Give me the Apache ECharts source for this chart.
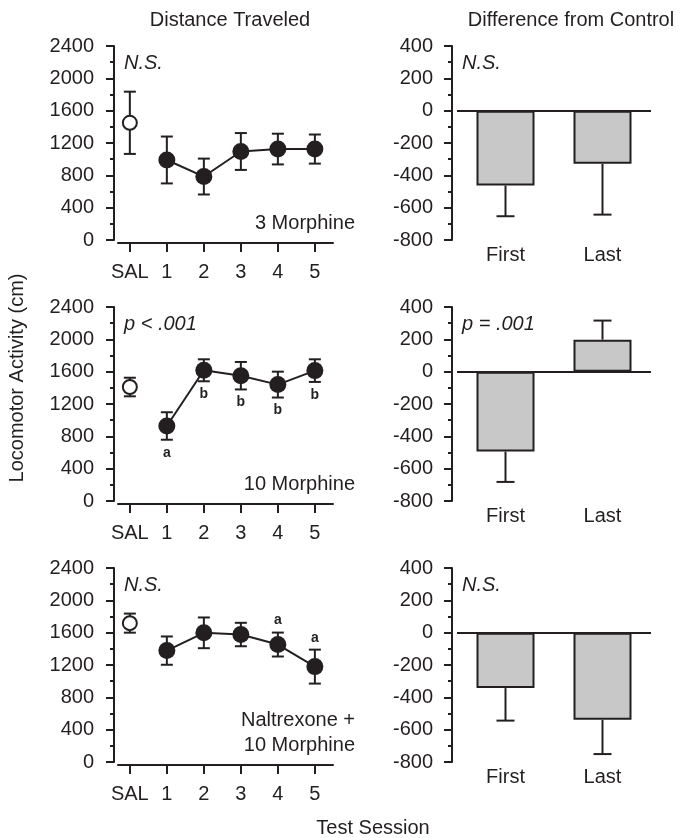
<!DOCTYPE html>
<html>
<head>
<meta charset="utf-8">
<script src="https://cdn.jsdelivr.net/npm/echarts@6/dist/echarts.min.js"></script>
<style>
html,body{margin:0;padding:0;background:#fff;}
#chart{width:680px;height:838px;}
</style>
</head>
<body>
<div id="chart"></div>
<script>
// ---- data ----
const sessions = ['SAL', '1', '2', '3', '4', '5'];
const leftTicks = [0, 400, 800, 1200, 1600, 2000, 2400];
const rightTicks = [-800, -600, -400, -200, 0, 200, 400];
const diffCats = ['First', 'Last'];

const m3Mean = [1450, 990, 785, 1095, 1125, 1125];
const m3Err = [385, 290, 222, 228, 190, 180];
const m3Letters = ['', '', '', '', '', ''];

const m10Mean = [1410, 928, 1617, 1550, 1440, 1613];
const m10Err = [115, 170, 136, 170, 160, 140];
const m10Letters = ['', 'a', 'b', 'b', 'b', 'b'];

const nalMean = [1718, 1378, 1598, 1577, 1453, 1180];
const nalErr = [118, 175, 190, 145, 148, 210];
const nalLetters = ['', '', '', '', 'a', 'a'];

const m3Diff = [-463, -329];
const m3DiffErr = [190, 314];
const m10Diff = [-494, 198];
const m10DiffErr = [188, 118];
const nalDiff = [-343, -539];
const nalDiffErr = [201, 212];

const statLeft = ['N.S.', 'p < .001', 'N.S.'];
const statRight = ['N.S.', 'p = .001', 'N.S.'];
const conditionLines = [['3 Morphine'], ['10 Morphine'], ['Naltrexone +', '10 Morphine']];

// ---- styling ----
const INK = '#231f20';
const FONT = '"Liberation Sans", Arial, Helvetica, sans-serif';
const FS = 20;
const tops = [46, 307, 568];
const H = 194;

const panels = [
  {mean: m3Mean, err: m3Err, letters: m3Letters, letterPos: 'below', diff: m3Diff, diffErr: m3DiffErr},
  {mean: m10Mean, err: m10Err, letters: m10Letters, letterPos: 'below', diff: m10Diff, diffErr: m10DiffErr},
  {mean: nalMean, err: nalErr, letters: nalLetters, letterPos: 'above', diff: nalDiff, diffErr: nalDiffErr}
];

const grids = [], xAxes = [], yAxes = [], series = [], graphics = [];

panels.forEach((p, k) => {
  const gl = 2 * k, gr = 2 * k + 1;
  grids.push({left: 118, width: 215, top: tops[k], height: H});
  grids.push({left: 457, width: 194, top: tops[k], height: H});

  // left panel axes
  xAxes.push({
    gridIndex: gl, type: 'value', min: -0.32, max: 5.49, offset: 3,
    axisLine: {show: true, onZero: false, lineStyle: {color: INK, width: 2}},
    axisTick: {show: true, length: 9, customValues: sessions.map((s, i) => i), lineStyle: {color: INK, width: 2}},
    axisLabel: {show: true, customValues: sessions.map((s, i) => i), formatter: v => sessions[Math.round(v)],
      fontSize: FS, fontFamily: FONT, color: INK, margin: 19},
    splitLine: {show: false}
  });
  yAxes.push({
    gridIndex: gl, type: 'value', min: leftTicks[0], max: leftTicks[leftTicks.length - 1],
    interval: leftTicks[1] - leftTicks[0], offset: 4,
    axisLine: {show: true, onZero: false, lineStyle: {color: INK, width: 2}},
    axisTick: {show: true, length: 8, lineStyle: {color: INK, width: 2}},
    minorTick: {show: true, splitNumber: 2, length: 4, lineStyle: {color: INK, width: 2}},
    axisLabel: {fontSize: FS, fontFamily: FONT, color: INK, margin: 20, formatter: v => String(v)},
    splitLine: {show: false}
  });
  // right panel axes
  xAxes.push({
    gridIndex: gr, type: 'category', data: diffCats, position: 'bottom',
    axisLine: {show: false, onZero: false},
    axisTick: {show: false},
    axisLabel: {fontSize: FS, fontFamily: FONT, color: INK, margin: 5},
    splitLine: {show: false}
  });
  yAxes.push({
    gridIndex: gr, type: 'value', min: rightTicks[0], max: rightTicks[rightTicks.length - 1],
    interval: rightTicks[1] - rightTicks[0], offset: 5,
    axisLine: {show: true, onZero: false, lineStyle: {color: INK, width: 2}},
    axisTick: {show: true, length: 8, lineStyle: {color: INK, width: 2}},
    minorTick: {show: true, splitNumber: 2, length: 4, lineStyle: {color: INK, width: 2}},
    axisLabel: {fontSize: FS, fontFamily: FONT, color: INK, margin: 19, formatter: v => String(v)},
    splitLine: {show: false}
  });

  // error bars + letters (left)
  series.push({
    type: 'custom', xAxisIndex: gl, yAxisIndex: gl, z: 2,
    data: p.mean.map((m, i) => [i, m, p.err[i]]),
    renderItem: (params, api) => {
      const x = api.value(0), m = api.value(1), e = api.value(2);
      const t = api.coord([x, m + e]), b = api.coord([x, m - e]);
      const hw = 6;
      const st = {stroke: INK, lineWidth: 2};
      const children = [
        {type: 'line', shape: {x1: t[0], y1: t[1], x2: b[0], y2: b[1]}, style: st},
        {type: 'line', shape: {x1: t[0] - hw, y1: t[1], x2: t[0] + hw, y2: t[1]}, style: st},
        {type: 'line', shape: {x1: b[0] - hw, y1: b[1], x2: b[0] + hw, y2: b[1]}, style: st}
      ];
      const letter = p.letters[params.dataIndex];
      if (letter) {
        const ly = p.letterPos === 'below' ? b[1] + 13 : t[1] - 12;
        children.push({type: 'text', x: t[0], y: ly,
          style: {text: letter, font: 'bold 14px ' + FONT, fill: INK, textAlign: 'center', textVerticalAlign: 'middle'}});
      }
      return {type: 'group', children};
    }
  });
  // connected sessions
  series.push({
    type: 'line', xAxisIndex: gl, yAxisIndex: gl, z: 3,
    data: p.mean.slice(1).map((m, i) => [i + 1, m]),
    symbol: 'circle', symbolSize: 17,
    lineStyle: {color: INK, width: 2},
    itemStyle: {color: INK, borderColor: INK, borderWidth: 0, opacity: 1},
    animation: false
  });
  // saline (open)
  series.push({
    type: 'scatter', xAxisIndex: gl, yAxisIndex: gl, z: 4,
    data: [[0, p.mean[0]]],
    symbol: 'circle', symbolSize: 14,
    itemStyle: {color: '#ffffff', borderColor: INK, borderWidth: 2, opacity: 1},
    animation: false
  });

  // bars (right)
  series.push({
    type: 'bar', xAxisIndex: gr, yAxisIndex: gr, z: 2,
    data: p.diff, barWidth: 58,
    itemStyle: {color: '#c8c8c8', borderColor: INK, borderWidth: 2},
    markLine: {silent: true, symbol: 'none', label: {show: false},
      lineStyle: {color: INK, width: 2, type: 'solid'}, data: [{yAxis: 0}], animation: false},
    animation: false
  });
  series.push({
    type: 'custom', xAxisIndex: gr, yAxisIndex: gr, z: 1,
    data: p.diff.map((v, i) => [i, v, p.diffErr[i]]),
    renderItem: (params, api) => {
      const i = api.value(0), v = api.value(1), e = api.value(2);
      const end = v + (v < 0 ? -e : e);
      const a = api.coord([i, v]), c = api.coord([i, end]);
      const hw = 9;
      const st = {stroke: INK, lineWidth: 2};
      return {type: 'group', children: [
        {type: 'line', shape: {x1: a[0], y1: a[1], x2: c[0], y2: c[1]}, style: st},
        {type: 'line', shape: {x1: c[0] - hw, y1: c[1], x2: c[0] + hw, y2: c[1]}, style: st}
      ]};
    }
  });

  // annotations
  graphics.push({type: 'text', x: 124, y: tops[k] + 17,
    style: {text: statLeft[k], font: 'italic 20px ' + FONT, fill: INK, textAlign: 'left', textVerticalAlign: 'middle'}});
  graphics.push({type: 'text', x: 462, y: tops[k] + 17,
    style: {text: statRight[k], font: 'italic 20px ' + FONT, fill: INK, textAlign: 'left', textVerticalAlign: 'middle'}});
  const lines = conditionLines[k];
  lines.forEach((ln, j) => {
    graphics.push({type: 'text', x: 355, y: tops[k] + 177 - (lines.length - 1 - j) * 24.5,
      style: {text: ln, font: '20px ' + FONT, fill: INK, textAlign: 'right', textVerticalAlign: 'middle'}});
  });
});

graphics.push({type: 'text', x: 230, y: 20,
  style: {text: 'Distance Traveled', font: '20px ' + FONT, fill: INK, textAlign: 'center', textVerticalAlign: 'middle'}});
graphics.push({type: 'text', x: 571, y: 20,
  style: {text: 'Difference from Control', font: '20px ' + FONT, fill: INK, textAlign: 'center', textVerticalAlign: 'middle'}});
graphics.push({type: 'text', x: 373, y: 828,
  style: {text: 'Test Session', font: '20px ' + FONT, fill: INK, textAlign: 'center', textVerticalAlign: 'middle'}});
graphics.push({type: 'text', x: 17, y: 378, rotation: Math.PI / 2,
  style: {text: 'Locomotor Activity (cm)', font: '20px ' + FONT, fill: INK, textAlign: 'center', textVerticalAlign: 'middle'}});

const chart = echarts.init(document.getElementById('chart'), null, {renderer: 'canvas'});
chart.setOption({
  animation: false,
  backgroundColor: '#fff',
  textStyle: {fontFamily: FONT, color: INK},
  grid: grids,
  xAxis: xAxes,
  yAxis: yAxes,
  series: series,
  graphic: graphics
});
</script>
</body>
</html>
